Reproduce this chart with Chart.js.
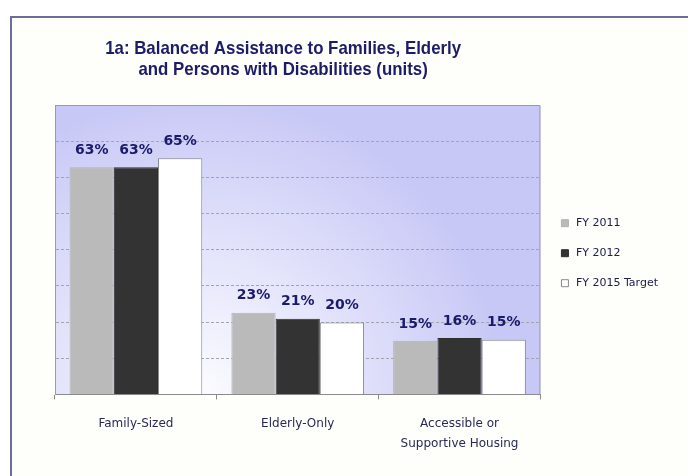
<!DOCTYPE html>
<html>
<head>
<meta charset="utf-8">
<script src="https://cdn.jsdelivr.net/npm/chart.js@4/dist/chart.umd.min.js"></script>
<style>
    body { margin: 0; background: #fff; }
    #frame {
        position: absolute; left: 10px; top: 16px;
        width: 700px; height: 480px;
        border: 2px solid #6a6e98;
        background: #fefefb;
    }
    #wrap { position: absolute; left: 0; top: 0; width: 688px; height: 476px; }
</style>
</head>
<body>
<div id="frame"></div>
<div id="wrap"><canvas id="units" width="688" height="476"></canvas></div>
<script>
const categories = ["Family-Sized", "Elderly-Only", ["Accessible or", "Supportive Housing"]];
const seriesNames = ["FY 2011", "FY 2012", "FY 2015 Target"];
const fy2011 = [62.8, 22.6, 14.8];
const fy2012 = [62.8, 20.9, 15.6];
const fy2015 = [65.3, 19.9, 15.1];
const titleLines = ["1a: Balanced Assistance to Families, Elderly", "and Persons with Disabilities (units)"];

// plot background : white glow low left, lavender elsewhere
const plotBackground = {
    id: 'plotBackground',
    beforeDraw(chart) {
        const { ctx, chartArea: a } = chart;
        const w = a.right - a.left;
        const g = ctx.createRadialGradient(a.left + w * 0.3, a.bottom, 0, a.left + w * 0.3, a.bottom, w * 0.62);
        g.addColorStop(0, '#fbfbff');
        g.addColorStop(0.3, '#ededfd');
        g.addColorStop(1, '#c8c8f6');
        ctx.save();
        ctx.fillStyle = g;
        ctx.fillRect(a.left, a.top, w, a.bottom - a.top);
        ctx.restore();
    },
    afterDraw(chart) {
        const { ctx, chartArea: a } = chart;
        ctx.save();
        ctx.strokeStyle = '#9a9aa6';
        ctx.lineWidth = 1;
        ctx.beginPath();
        ctx.moveTo(a.left + 0.5, a.top + 0.5);
        ctx.lineTo(a.right - 0.5, a.top + 0.5);
        ctx.lineTo(a.right - 0.5, a.bottom);
        ctx.stroke();
        ctx.restore();
    }
};

// value labels above the bars
const valueLabels = {
    id: 'valueLabels',
    afterDatasetsDraw(chart) {
        const ctx = chart.ctx;
        ctx.save();
        ctx.font = 'bold 14px "DejaVu Sans", Verdana, sans-serif';
        ctx.fillStyle = '#1b1b6c';
        ctx.textAlign = 'center';
        ctx.textBaseline = 'middle';
        chart.data.datasets.forEach((ds, i) => {
            chart.getDatasetMeta(i).data.forEach((bar, j) => {
                ctx.fillText(Math.round(ds.data[j]) + '%', bar.x, bar.y - 17);
            });
        });
        ctx.restore();
    }
};

// two line centred title, narrow bold
const chartTitle = {
    id: 'chartTitle',
    afterDraw(chart) {
        const { ctx, chartArea: a } = chart;
        const cx = a.left + (a.right - a.left) * 0.47;
        ctx.save();
        ctx.font = 'bold 19px "Liberation Sans Narrow", "Liberation Sans", Arial, sans-serif';
        ctx.fillStyle = '#1c1c68';
        ctx.textAlign = 'center';
        ctx.textBaseline = 'middle';
        const w0 = ctx.measureText(titleLines[0]).width;
        const sx = Math.min(1, 356 / w0);
        ctx.translate(cx, 0);
        ctx.scale(sx, 1);
        ctx.fillText(titleLines[0], 0, 49);
        ctx.fillText(titleLines[1], 0, 70);
        ctx.restore();
    }
};

new Chart(document.getElementById('units'), {
    type: 'bar',
    data: {
        labels: categories,
        datasets: [
            { label: seriesNames[0], data: fy2011, backgroundColor: '#bababa', borderColor: '#b2b2b2', borderWidth: 1 },
            { label: seriesNames[1], data: fy2012, backgroundColor: '#333333', borderColor: '#2e2e2e', borderWidth: 1 },
            { label: seriesNames[2], data: fy2015, backgroundColor: '#ffffff', borderColor: '#8a8a8a', borderWidth: 1 }
        ]
    },
    options: {
        responsive: false,
        animation: false,
        categoryPercentage: 0.82,
        barPercentage: 1,
        layout: {
            padding: { left: 55, top: 105, right: 20, bottom: 7 }
        },
        scales: {
            x: {
                grid: { offset: true, drawOnChartArea: false, drawTicks: true, tickLength: 5, color: '#8a8a8a' },
                border: { color: '#8a8a8a' },
                ticks: {
                    color: '#2a2a58',
                    padding: 15,
                    font: { family: '"DejaVu Sans", Verdana, sans-serif', size: 12, lineHeight: 1.65 }
                }
            },
            y: {
                min: 0,
                max: 80,
                ticks: { display: false, stepSize: 10 },
                grid: { color: '#a4a4b0', drawTicks: false },
                border: { display: true, color: '#9a9aa6', dash: [3, 2] }
            }
        },
        plugins: {
            legend: {
                position: 'right',
                fullSize: false,
                title: { display: true, text: '', font: { size: 7, lineHeight: 1 }, padding: 0 },
                labels: {
                    usePointStyle: true,
                    pointStyle: 'rect',
                    boxWidth: 11,
                    boxHeight: 7,
                    padding: 19,
                    color: '#20204e',
                    font: { family: '"DejaVu Sans", Verdana, sans-serif', size: 11, lineHeight: 0.5 }
                }
            },
            tooltip: { enabled: false }
        }
    },
    plugins: [plotBackground, valueLabels, chartTitle]
});
</script>
</body>
</html>
